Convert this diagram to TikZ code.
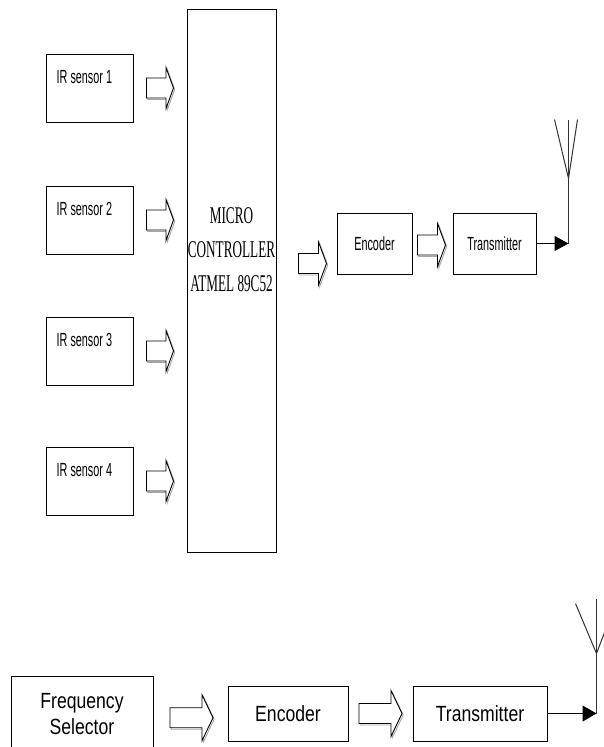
\documentclass[tikz,border=0pt]{standalone}
\usepackage{fontspec}
\setmainfont{Liberation Sans}
\newfontfamily\topfont[FakeStretch=0.57]{Liberation Sans}
\newfontfamily\lowfont[FakeStretch=0.8]{Liberation Sans}
\newfontfamily\mcufont[FakeStretch=0.55]{Liberation Serif}
\usetikzlibrary{calc}
\usetikzlibrary{arrows.meta}

% hollow block arrow: centre, half length, half shaft, half head, head length
\newcommand{\hollowarrow}[5]{%
  \foreach \dx/\dy/\col in {1.2/1.5/gray!70, 0/0/black} {
    \draw[draw=\col, fill=white, line width=0.9pt, shift={($(#1)+(\dx,\dy)$)}]
      (-#2,-#3) -- (#2-#5,-#3) -- (#2-#5,-#4) -- (#2,0)
      -- (#2-#5,#4) -- (#2-#5,#3) -- (-#2,#3) -- cycle;
  }
}

\begin{document}
\begin{tikzpicture}[x=1pt, y=-1pt,
    box/.style={draw=black, line width=1pt, inner sep=0pt},
    topsans/.style={font=\topfont\fontsize{19}{23}\selectfont},
    lowsans/.style={font=\lowfont\fontsize{22}{26}\selectfont},
    mast/.style={draw=black!80, line width=1pt}]

    \clip (0,0) rectangle (604,747);

    % Micro controller block
    \node[box, minimum width=89pt, minimum height=543pt] (MCU) at (231.5,280.5) {};
    \node[font=\mcufont\fontsize{24}{34}\selectfont, align=center,
          inner sep=0pt] (MCU_text) at (231.5,250)
          {MICRO\\CONTROLLER\\ATMEL 89C52};

    % IR sensors feeding the controller
    \foreach \i/\y in {1/88, 2/220, 3/351, 4/481} {
      \node[box, minimum width=87pt, minimum height=68pt] (IR\i) at (89.5,\y) {};
      \node[topsans, anchor=base west, inner sep=0pt] (IR\i_text)
            at ($(IR\i.north west)+(11,30)$) {IR sensor \i};
      \coordinate (A\i) at ($(IR\i.east)!0.5!(MCU.west |- IR\i.east)$);
      \hollowarrow{A\i}{13.5}{10}{20.5}{7.5}
    }

    % Upper chain: encoder and transmitter
    \node[box, topsans, minimum width=75pt, minimum height=61pt] (Enc1) at (374.5,243.5) {Encoder};
    \node[box, topsans, minimum width=83pt, minimum height=61pt] (Tx1) at (494.5,243.5) {Transmitter};

    \coordinate (B1) at ($(MCU.east)!0.5!(Enc1.west)+(6,1.5)$);
    \hollowarrow{B1}{14}{10}{21.5}{8}
    \coordinate (B2) at ($(Enc1.east)!0.5!(Tx1.west)+(-1,1.5)$);
    \hollowarrow{B2}{14}{10}{21.5}{8}

    % Upper antenna
    \coordinate (Ant1) at ($(Tx1.east)+(32,0)$);
    \draw[line width=1pt, -{Triangle[length=14pt,width=15pt]}] (Tx1.east) -- (Ant1);
    \draw[mast] (Ant1) -- ++(0,-124);
    \draw[mast] ($(Ant1)+(-14,-124)$) -- ($(Ant1)+(0,-65)$) -- ($(Ant1)+(9,-124)$);

    % Lower chain: frequency selector, encoder and transmitter
    \node[box, lowsans, align=center, minimum width=142pt, minimum height=76pt]
          (FS) at (82,714) {Frequency\\Selector};
    \node[box, lowsans, minimum width=120pt, minimum height=55pt] (Enc2) at (288,713.5) {Encoder};
    \node[box, lowsans, minimum width=134pt, minimum height=55pt] (Tx2) at (480,713.5) {Transmitter};

    \coordinate (C1) at ($(FS.east)!0.5!(Enc2.west)+(1,4)$);
    \hollowarrow{C1}{21.5}{10}{23}{11}
    \coordinate (C2) at ($(Enc2.east)!0.5!(Tx2.west)$);
    \hollowarrow{C2}{21.5}{10}{23}{11}

    % Lower antenna
    \coordinate (Ant2) at ($(Tx2.east)+(49,0)$);
    \draw[line width=1pt, -{Triangle[length=14pt,width=16pt]}] (Tx2.east) -- (Ant2);
    \draw[mast] (Ant2) -- ++(0,-115);
    \draw[mast] ($(Ant2)+(-21,-110)$) -- ($(Ant2)+(0,-60)$) -- ($(Ant2)+(19,-110)$);

\end{tikzpicture}
\end{document}
